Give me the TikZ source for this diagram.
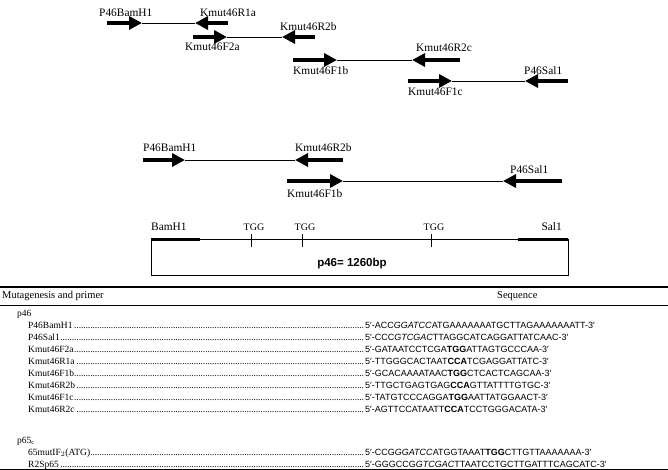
\documentclass[tikz,border=0pt]{standalone}
\usepackage{fontspec}
\setmainfont{Liberation Serif}
\newfontfamily\sqfont{Liberation Sans}
\usetikzlibrary{arrows.meta}
\tikzset{
  primer/.style={line width=3.8pt, -{Triangle[length=13pt,width=13pt]}},
  dna/.style={line width=0.8pt},
  lbl/.style={anchor=west, inner sep=0pt, font=\fontsize{11.4}{12}\selectfont},
  rule/.style={line width=1.1pt},
}
\newcommand\primerrow[4]{% name, y, name text, sequence
  \node[anchor=base west, inner sep=0pt] (#1) at (28,#2)
  {\hbox to 337pt{\fontsize{9.5}{10}\selectfont #3\leaders\hbox to 2.3pt{\hss.\hss}\hfill}%
   {\sqfont\fontsize{9}{10}\selectfont 5′-#4-3′}};}
\begin{document}
\begin{tikzpicture}[x=1pt,y=-1pt]
\useasboundingbox (0,0) rectangle (668,470);
% ---------- overlapping primer set ----------
% row 1
\coordinate (a1) at (107,23); \coordinate (a1t) at (142,23);
\coordinate (b1) at (228,23); \coordinate (b1t) at (195,23);
\draw[dna] (a1t) -- (b1t);
\draw[primer] (a1) -- (a1t);
\draw[primer] (b1) -- (b1t);
\node[lbl] (la1) at (99,13) {P46BamH1};
\node[lbl] (lb1) at (200,13) {Kmut46R1a};
% row 2
\coordinate (a2) at (193,37); \coordinate (a2t) at (227,37);
\coordinate (b2) at (315,37); \coordinate (b2t) at (282,37);
\draw[dna] (a2t) -- (b2t);
\draw[primer] (a2) -- (a2t);
\draw[primer] (b2) -- (b2t);
\node[lbl] (la2) at (185,47) {Kmut46F2a};
\node[lbl] (lb2) at (280,27) {Kmut46R2b};
% row 3
\coordinate (a3) at (293,60); \coordinate (a3t) at (337,60);
\coordinate (b3) at (460,60); \coordinate (b3t) at (412,60);
\draw[dna] (a3t) -- (b3t);
\draw[primer] (a3) -- (a3t);
\draw[primer] (b3) -- (b3t);
\node[lbl] (la3) at (293,71) {Kmut46F1b};
\node[lbl] (lb3) at (416,48) {Kmut46R2c};
% row 4
\coordinate (a4) at (408,81); \coordinate (a4t) at (452,81);
\coordinate (b4) at (568,81); \coordinate (b4t) at (525,81);
\draw[dna] (a4t) -- (b4t);
\draw[primer] (a4) -- (a4t);
\draw[primer] (b4) -- (b4t);
\node[lbl] (la4) at (408,92) {Kmut46F1c};
\node[lbl] (lb4) at (524,71) {P46Sal1};
% ---------- second primer set ----------
\coordinate (a5) at (143,160); \coordinate (a5t) at (185,160);
\coordinate (b5) at (343,160); \coordinate (b5t) at (295,160);
\draw[dna] (a5t) -- (b5t);
\draw[primer] (a5) -- (a5t);
\draw[primer] (b5) -- (b5t);
\node[lbl] (la5) at (143,148) {P46BamH1};
\node[lbl] (lb5) at (295,148) {Kmut46R2b};
\coordinate (a6) at (287,181); \coordinate (a6t) at (343,181);
\coordinate (b6) at (562,181); \coordinate (b6t) at (503,181);
\draw[dna] (a6t) -- (b6t);
\draw[primer] (a6) -- (a6t);
\draw[primer] (b6) -- (b6t);
\node[lbl] (la6) at (287,194) {Kmut46F1b};
\node[lbl] (lb6) at (510,170) {P46Sal1};
% ---------- gene box ----------
\draw[line width=0.8pt] (151,239) rectangle (568,275);
\draw[line width=3pt] (151,239) -- (200,239);
\draw[line width=3pt] (518,239) -- (568,239);
\foreach \tx/\nm in {251/t1,302/t2,431/t3}{
  \draw[line width=0.7pt] (\tx,234) -- (\tx,247);
  \node[inner sep=0pt, font=\fontsize{10}{11}\selectfont] (\nm) at (\tx+3,227) {TGG};
}
\node[lbl] (bam) at (151,227) {BamH1};
\node[anchor=east, inner sep=0pt, font=\fontsize{11.4}{12}\selectfont] (sal) at (562,227) {Sal1};
\node[inner sep=0pt, font=\sqfont\bfseries\fontsize{11.5}{12}\selectfont] (len) at (352,264) {p46= 1260bp};
% ---------- table ----------
\draw[rule] (0,287) -- (668,287);
\node[anchor=west, inner sep=0pt, font=\fontsize{10.5}{11}\selectfont] (h1) at (2,296) {Mutagenesis and primer};
\node[anchor=west, inner sep=0pt, font=\fontsize{10.5}{11}\selectfont] (h2) at (497,296) {Sequence};
\draw[line width=0.7pt] (0,305) -- (668,305);
\node[anchor=base west, inner sep=0pt, font=\fontsize{9.5}{10}\selectfont] (s1) at (17,316) {p46};
\primerrow{r1}{328}{P46BamH1}{ACC\textit{GGATCC}ATGAAAAAAATGCTTAGAAAAAAATT}
\primerrow{r2}{340}{P46Sal1}{CCC\textit{GTCGAC}TTAGGCATCAGGATTATCAAC}
\primerrow{r3}{352}{Kmut46F2a}{GATAATCCTCGA\textbf{TGG}ATTAGTGCCCAA}
\primerrow{r4}{364}{Kmut46R1a}{TTGGGCACTAAT\textbf{CCA}TCGAGGATTATC}
\primerrow{r5}{376}{Kmut46F1b}{GCACAAAATAAC\textbf{TGG}CTCACTCAGCAA}
\primerrow{r6}{388}{Kmut46R2b}{TTGCTGAGTGAG\textbf{CCA}GTTATTTTGTGC}
\primerrow{r7}{400}{Kmut46F1c}{TATGTCCCAGGA\textbf{TGG}AATTATGGAACT}
\primerrow{r8}{412}{Kmut46R2c}{AGTTCCATAATT\textbf{CCA}TCCTGGGACATA}
\node[anchor=base west, inner sep=0pt, font=\fontsize{9.5}{10}\selectfont] (s2) at (17,443) {p65$_{\mathrm{c}}$};
\primerrow{r9}{455}{65mutIF$_2$(ATG)}{CCG\textit{GGATCC}ATGGTAAAT\textbf{TGG}CTTGTTAAAAAAA}
\primerrow{r10}{467}{R2Sp65}{GGGCCG\textit{GTCGAC}TTAATCCTGCTTGATTTCAGCATC}
\draw[rule] (0,469.5) -- (668,469.5);
\end{tikzpicture}
\end{document}
